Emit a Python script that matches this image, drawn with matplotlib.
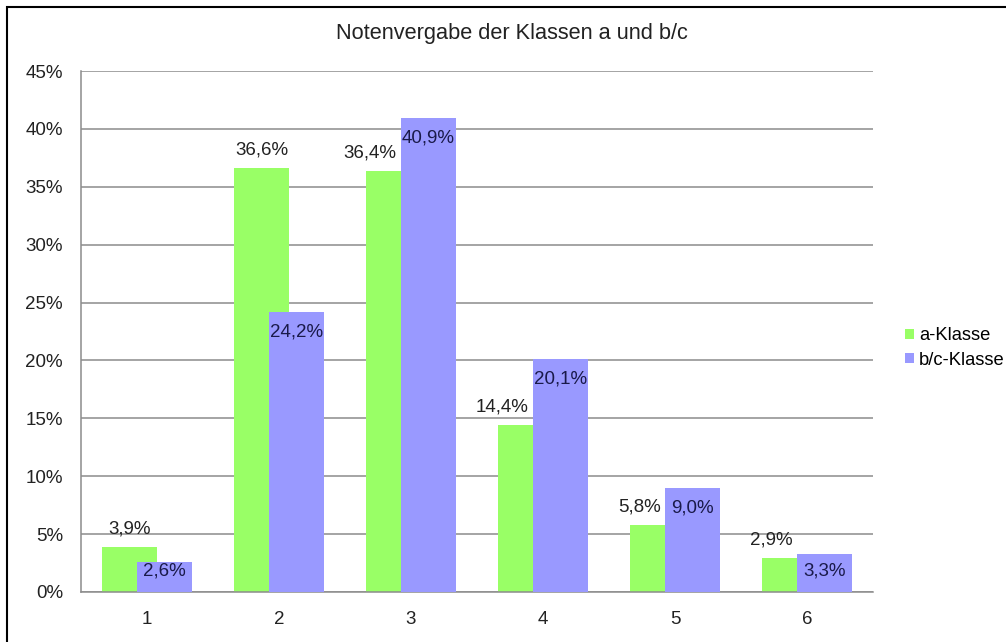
import numpy as np
import matplotlib
matplotlib.use("Agg")
import matplotlib.pyplot as plt
from matplotlib.patches import Rectangle

plt.rcParams['font.family'] = ['Liberation Sans', 'DejaVu Sans']

noten = ['1', '2', '3', '4', '5', '6']
a_klasse = [3.9, 36.6, 36.4, 14.4, 5.8, 2.9]
bc_klasse = [2.6, 24.2, 40.9, 20.1, 9.0, 3.3]
y_ticks = [0, 5, 10, 15, 20, 25, 30, 35, 40, 45]

W, H = 1006, 642
fig = plt.figure(figsize=(W / 100, H / 100), dpi=100)
ax = fig.add_axes([81 / W, (H - 592) / H, (873 - 81) / W, (592 - 71) / H])

x = np.arange(len(noten))
bw = 0.417
off = 0.13
gruen = '#99ff66'
blau = '#9999ff'
fs = 13.5

b1 = ax.bar(x - off, a_klasse, bw, color=gruen, zorder=2, label='a-Klasse')
b2 = ax.bar(x + off, bc_klasse, bw, color=blau, zorder=3, label='b/c-Klasse')

# Beschriftungen (Komma als Dezimaltrenner)
for xi, v, w in zip(x, a_klasse, bc_klasse):
    txt = f'{v:.1f}%'.replace('.', ',')
    if w > v:
        # nach links schieben, damit es nicht in den blauen Balken laeuft
        ax.annotate(txt, (xi + off - bw / 2, v), xytext=(-3, 13),
                    textcoords='offset points', ha='right', va='center',
                    fontsize=fs, color='#222222', zorder=5)
    else:
        ax.annotate(txt, (xi - off, v), xytext=(0, 13),
                    textcoords='offset points', ha='center', va='center',
                    fontsize=fs, color='#222222', zorder=5)
px_per_unit = (592 - 71) / 45.0
for xi, v in zip(x, bc_klasse):
    h = v * px_per_unit
    d = min(20, h - 21)
    ax.annotate(f'{v:.1f}%'.replace('.', ','), (xi + off, v), xytext=(0, -d * 0.72),
                textcoords='offset points', ha='center', va='center',
                fontsize=fs, color='#1a1a4a', zorder=5)

ax.set_xlim(-0.5, len(noten) - 0.5)
ax.set_ylim(0, 45)
ax.set_yticks(y_ticks)
ax.set_yticklabels([f'{t}%' for t in y_ticks])
ax.set_xticks(x)
ax.set_xticklabels(noten)
ax.tick_params(axis='y', length=0, pad=13, labelsize=fs, colors='#222222')
ax.tick_params(axis='x', length=0, pad=14, labelsize=fs, colors='#222222')
ax.grid(axis='y', color='#8c8c8c', linewidth=1.1, zorder=0)
ax.set_axisbelow(True)
for s in ['top', 'right']:
    ax.spines[s].set_visible(False)
for s in ['left', 'bottom']:
    ax.spines[s].set_color('#8c8c8c')
    ax.spines[s].set_linewidth(1.1)

fig.text(512 / W, 1 - 34 / H, 'Notenvergabe der Klassen a und b/c', ha='center', va='center',
         fontsize=15.7, color='#222222')

fig.legend(handles=[b1, b2], loc='center left', bbox_to_anchor=(896 / W, 1 - 348 / H),
           frameon=False, fontsize=13.2, handlelength=0.5, handleheight=0.5,
           handletextpad=0.25, labelspacing=0.4, borderpad=0)

# Rahmen um das Diagramm
fig.patches.append(Rectangle((7 / W, -0.05), 1.1, 1 - 7 / H + 0.05, transform=fig.transFigure,
                             fill=False, edgecolor='black', linewidth=1.5))

fig.savefig('out.png', dpi=100)
